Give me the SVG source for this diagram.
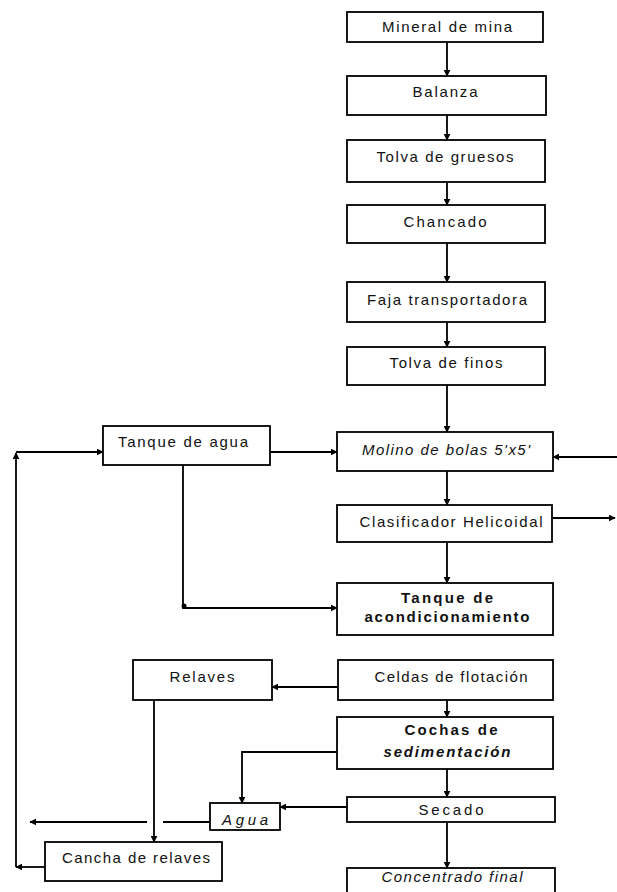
<svg xmlns="http://www.w3.org/2000/svg" width="617" height="892" viewBox="0 0 617 892">
<style>
.box{fill:#fff;stroke:#000;stroke-width:1.8}
.t{font-family:"Liberation Sans",Arial,sans-serif;font-size:15px;fill:#111;text-anchor:middle}
.i{font-style:italic}
.b{font-weight:bold}
.c{fill:none;stroke:#000;stroke-width:1.8}
</style>
<defs>
<marker id="ah" viewBox="0 0 10 10" refX="9" refY="5" markerWidth="7" markerHeight="7" markerUnits="userSpaceOnUse" orient="auto">
<path d="M0,0 L10,5 L0,10 z" fill="#000"/>
</marker>
</defs>
<rect width="617" height="892" fill="#fff"/>
<g id="connectors">
<path class="c" d="M447,42 V76" marker-end="url(#ah)"/>
<path class="c" d="M447,115 V140" marker-end="url(#ah)"/>
<path class="c" d="M447,182 V205" marker-end="url(#ah)"/>
<path class="c" d="M447,243 V282" marker-end="url(#ah)"/>
<path class="c" d="M447,322 V347" marker-end="url(#ah)"/>
<path class="c" d="M447,385 V432" marker-end="url(#ah)"/>
<path class="c" d="M447,471 V505" marker-end="url(#ah)"/>
<path class="c" d="M447,542 V583" marker-end="url(#ah)"/>
<path class="c" d="M447,700 V717" marker-end="url(#ah)"/>
<path class="c" d="M447,769 V797" marker-end="url(#ah)"/>
<path class="c" d="M447,822 V868" marker-end="url(#ah)"/>
<path class="c" d="M270,452 H337" marker-end="url(#ah)"/>
<path class="c" d="M183,465 V608 H337" marker-end="url(#ah)"/>
<circle cx="184" cy="606" r="2.5" fill="#000"/>
<path class="c" d="M617,457 H553" marker-end="url(#ah)"/>
<path class="c" d="M553,518 H615" marker-end="url(#ah)"/>
<path class="c" d="M338,687 H272" marker-end="url(#ah)"/>
<path class="c" d="M154,700 V842" stroke-width="2.4" marker-end="url(#ah)"/>
<path class="c" d="M337,752 H242 V803" marker-end="url(#ah)"/>
<path class="c" d="M347,807 H280" marker-end="url(#ah)"/>
<path class="c" d="M210,822 H163"/>
<path class="c" d="M147,822 H30" marker-end="url(#ah)"/>
<path class="c" d="M45,867 H16" marker-end="url(#ah)"/>
<path class="c" d="M16,867 V453" marker-end="url(#ah)"/>
<path class="c" d="M16,452 H103" marker-end="url(#ah)"/>
</g>
<g id="n1"><rect class="box" x="347" y="12" width="196" height="30"/><text class="t" x="447" y="32" textLength="130" lengthAdjust="spacing">Mineral de mina</text></g>
<g id="n2"><rect class="box" x="347" y="76" width="199" height="39"/><text class="t" x="445" y="97" textLength="65" lengthAdjust="spacing">Balanza</text></g>
<g id="n3"><rect class="box" x="347" y="140" width="198" height="42"/><text class="t" x="445" y="162" textLength="137" lengthAdjust="spacing">Tolva de gruesos</text></g>
<g id="n4"><rect class="box" x="347" y="205" width="198" height="38"/><text class="t" x="445" y="227" textLength="83" lengthAdjust="spacing">Chancado</text></g>
<g id="n5"><rect class="box" x="347" y="282" width="198" height="40"/><text class="t" x="447" y="305" textLength="160" lengthAdjust="spacing">Faja transportadora</text></g>
<g id="n6"><rect class="box" x="347" y="347" width="198" height="38"/><text class="t" x="446" y="368" textLength="113" lengthAdjust="spacing">Tolva de finos</text></g>
<g id="n7"><rect class="box" x="337" y="432" width="216" height="39"/><text class="t i" x="446" y="455" textLength="168" lengthAdjust="spacing">Molino de bolas 5'x5'</text></g>
<g id="n8"><rect class="box" x="337" y="505" width="215" height="37"/><text class="t" x="451" y="527" textLength="183" lengthAdjust="spacing">Clasificador Helicoidal</text></g>
<g id="n9"><rect class="box" x="337" y="583" width="216" height="52"/><text class="t b" x="447" y="603" textLength="92" lengthAdjust="spacing">Tanque de</text><text class="t b" x="447" y="622" textLength="165" lengthAdjust="spacing">acondicionamiento</text></g>
<g id="n10"><rect class="box" x="103" y="426" width="167" height="39"/><text class="t" x="183" y="447" textLength="130" lengthAdjust="spacing">Tanque de agua</text></g>
<g id="n11"><rect class="box" x="133" y="660" width="139" height="40"/><text class="t" x="202" y="682" textLength="65" lengthAdjust="spacing">Relaves</text></g>
<g id="n12"><rect class="box" x="338" y="660" width="215" height="40"/><text class="t" x="451" y="682" textLength="153" lengthAdjust="spacing">Celdas de flotación</text></g>
<g id="n13"><rect class="box" x="337" y="717" width="216" height="52"/><text class="t b" x="451" y="735" textLength="93" lengthAdjust="spacing">Cochas de</text><text class="t b i" x="447" y="757" textLength="127" lengthAdjust="spacing">sedimentación</text></g>
<g id="n14"><rect class="box" x="347" y="797" width="208" height="25"/><text class="t" x="451" y="815" textLength="65" lengthAdjust="spacing">Secado</text></g>
<g id="n15"><rect class="box" x="210" y="803" width="70" height="27"/><text class="t i" x="245" y="825" textLength="46" lengthAdjust="spacing">Agua</text></g>
<g id="n16"><rect class="box" x="45" y="842" width="177" height="39"/><text class="t" x="136" y="863" textLength="148" lengthAdjust="spacing">Cancha de relaves</text></g>
<g id="n17"><rect class="box" x="347" y="868" width="208" height="30"/><text class="t i" x="452" y="882" textLength="141" lengthAdjust="spacing">Concentrado final</text></g>
</svg>
